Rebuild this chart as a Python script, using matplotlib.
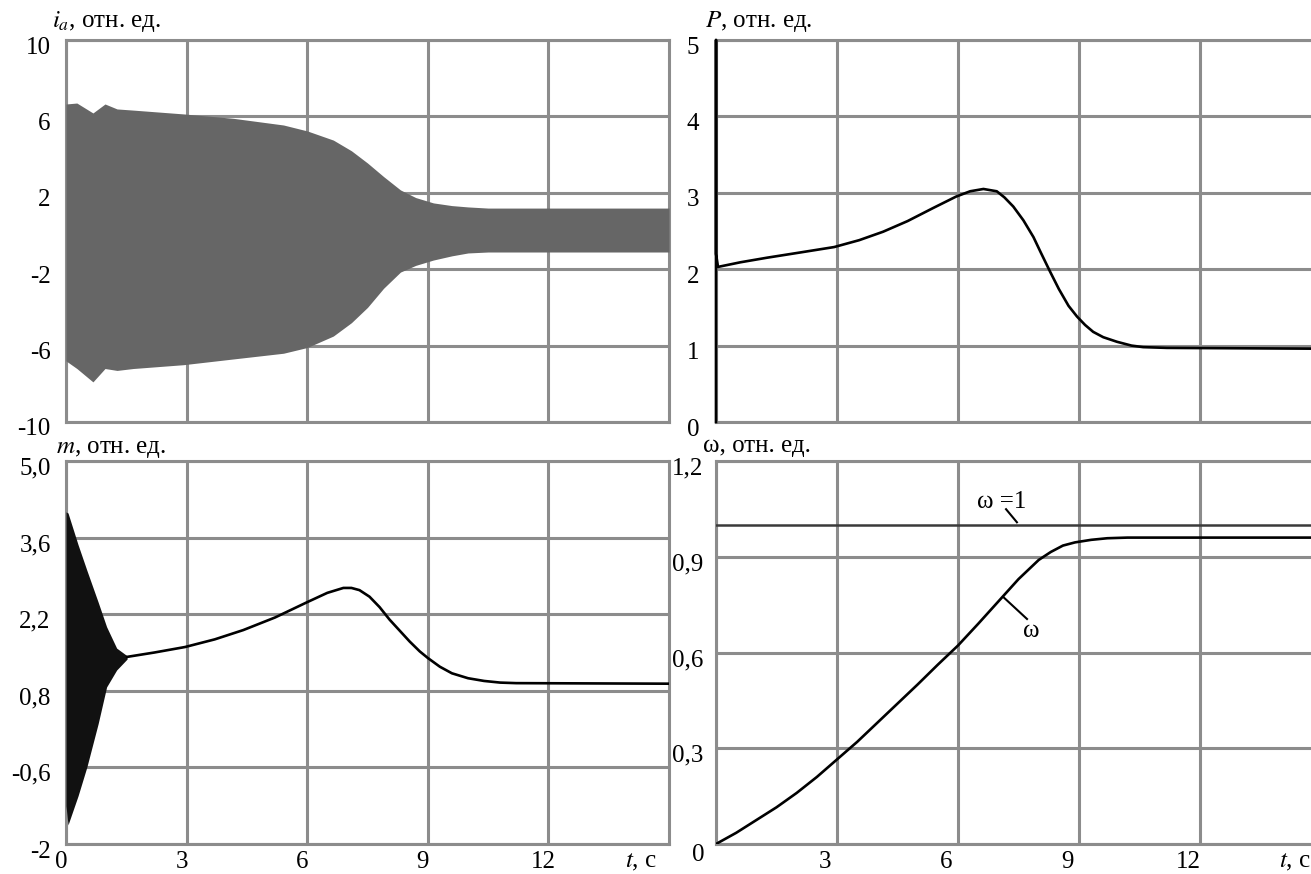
import numpy as np
import matplotlib
matplotlib.use("Agg")
import matplotlib.pyplot as plt
from matplotlib.transforms import ScaledTranslation

plt.rcParams["font.family"] = ["Liberation Serif", "DejaVu Serif"]
plt.rcParams["mathtext.fontset"] = "stix"
plt.rcParams["axes.unicode_minus"] = False

# ---------------- Data ----------------
# i_a: envelope of the fast oscillating phase current
IA_T  = [0, 0.27, 0.67, 0.97, 1.27, 1.67, 2.92, 4.16, 5.41, 6.0, 6.65, 7.1, 7.5, 7.9,
         8.32, 8.7, 9.14, 9.6, 10.0, 10.5, 15]
IA_HI = [6.65, 6.7, 6.18, 6.65, 6.39, 6.33, 6.13, 5.9, 5.55, 5.24, 4.76, 4.2, 3.56, 2.85,
         2.15, 1.75, 1.47, 1.33, 1.26, 1.2, 1.2]
IA_LO = [-6.8, -7.2, -7.9, -7.2, -7.3, -7.2, -7.0, -6.7, -6.4, -6.1, -5.5, -4.8, -4.0, -3.0,
         -2.15, -1.8, -1.52, -1.3, -1.15, -1.1, -1.1]

# P: active power
P_T = [0, 0, 0, 0.05, 0.6, 1.26, 2.1, 2.93, 3.55, 4.14, 4.75, 5.38, 5.95, 6.3, 6.63, 6.96,
       7.15, 7.37, 7.62, 7.87, 8.05, 8.28, 8.5, 8.74, 8.95, 9.15, 9.35, 9.6, 9.94, 10.3,
       10.59, 11.18, 14.75]
P_V = [0, 5, 2.2, 2.03, 2.09, 2.15, 2.22, 2.29, 2.38, 2.49, 2.63, 2.80, 2.95, 3.02, 3.05, 3.02,
       2.94, 2.82, 2.64, 2.42, 2.22, 1.97, 1.74, 1.52, 1.38, 1.27, 1.18, 1.11, 1.05, 1.0,
       0.98, 0.97, 0.96]

# m: torque, oscillating envelope at start, then smooth curve
M_ENV_T  = [0, 0.05, 0.3, 0.52, 0.8, 1.01, 1.26, 1.52]
M_ENV_HI = [4.07, 4.05, 3.47, 3.0, 2.42, 1.97, 1.58, 1.44]
M_ENV_LO = [-1.3, -1.65, -1.12, -0.59, 0.2, 0.87, 1.18, 1.38]
M_T = [1.52, 2.2, 2.96, 3.7, 4.41, 5.2, 6.0, 6.5, 6.9, 7.1, 7.3, 7.55, 7.8, 8.05, 8.3,
       8.55, 8.8, 9.0, 9.3, 9.6, 10.0, 10.4, 10.8, 11.2, 15]
M_V = [1.42, 1.5, 1.60, 1.74, 1.91, 2.14, 2.42, 2.59, 2.68, 2.68, 2.64, 2.52, 2.33, 2.1, 1.9,
       1.7, 1.52, 1.40, 1.24, 1.12, 1.03, 0.98, 0.95, 0.94, 0.93]

# omega: speed
W_T = [0, 0.5, 1.0, 1.5, 2.0, 2.5, 3.0, 3.5, 4.0, 4.5, 5.0, 5.5, 6.0, 6.5, 7.0, 7.5, 8.0,
       8.3, 8.6, 8.9, 9.3, 9.7, 10.2, 14.75]
W_V = [0, 0.035, 0.075, 0.115, 0.16, 0.21, 0.265, 0.32, 0.38, 0.44, 0.50, 0.562, 0.622, 0.69,
       0.76, 0.83, 0.89, 0.915, 0.935, 0.945, 0.953, 0.958, 0.96, 0.96]
OMEGA_REF = 1.0

X_TICKS = [0, 3, 6, 9, 12]
X_LABELS_L = ["0", "3", "6", "9", "12"]
X_LABELS_R = ["", "3", "6", "9", "12"]

IA_TICKS = [-10, -6, -2, 2, 6, 10]
IA_LABELS = ["-10", "-6", "-2", "2", "6", "10"]
P_TICKS = [0, 1, 2, 3, 4, 5]
P_LABELS = ["0", "1", "2", "3", "4", "5"]
M_TICKS = [-2, -0.6, 0.8, 2.2, 3.6, 5.0]
M_LABELS = ["-2", "-0,6", "0,8", "2,2", "3,6", "5,0"]
W_TICKS = [0, 0.3, 0.6, 0.9, 1.2]
W_LABELS = ["", "0,3", "0,6", "0,9", "1,2"]

# ---------------- Style ----------------
W, H = 1311, 874
GRID = "#8c8c8c"
FS = 18

fig = plt.figure(figsize=(W / 100, H / 100), dpi=100)
fig.patch.set_facecolor("white")


def add_axes(x0, x1, y0, y1):
    return fig.add_axes([x0 / W, 1 - y1 / H, (x1 - x0) / W, (y1 - y0) / H])


def shift(labels, dx_px, dy_px):
    for lbl in labels:
        lbl.set_transform(lbl.get_transform() +
                          ScaledTranslation(dx_px / 100, dy_px / 100, fig.dpi_scale_trans))


def style(ax, xmax, yticks, ylabels, ypad, xlabels, xshift, right_spine=True):
    ax.set_xlim(0, xmax)
    ax.set_ylim(yticks[0], yticks[-1])
    ax.set_xticks(X_TICKS)
    ax.set_yticks(yticks)
    ax.set_yticklabels(ylabels)
    show_x = xlabels is not None
    if show_x:
        ax.set_xticklabels(xlabels)
    ax.tick_params(length=0, labelsize=FS, labelbottom=show_x, pad=ypad)
    ax.tick_params(axis="x", pad=5)
    ax.grid(True, color=GRID, lw=2.2)
    ax.set_axisbelow(True)
    for name, sp in ax.spines.items():
        sp.set_color(GRID)
        sp.set_linewidth(2.2)
    ax.spines["right"].set_visible(right_spine)
    shift(ax.get_yticklabels(), 0, -5)
    if show_x:
        shift(ax.get_xticklabels(), xshift, 0)


ax1 = add_axes(66, 669, 40, 422)
ax2 = add_axes(716, 1311, 40, 422)
ax3 = add_axes(66, 669, 461, 844)
ax4 = add_axes(716, 1311, 461, 844)

# i_a
ax1.fill_between(IA_T, IA_LO, IA_HI, color="#666666", lw=0, zorder=3)
style(ax1, 15, IA_TICKS, IA_LABELS, 11, None, 0)

# P
ax2.plot(P_T, P_V, color="black", lw=1.9, clip_on=False, zorder=3)
style(ax2, 14.75, P_TICKS, P_LABELS, 12, None, 0, right_spine=False)

# m
ax3.fill_between(M_ENV_T, M_ENV_LO, M_ENV_HI, color="#111111", lw=0, zorder=3)
ax3.plot(M_T, M_V, color="black", lw=1.9, zorder=3)
style(ax3, 15, M_TICKS, M_LABELS, 11, X_LABELS_L, -5)

# omega
ax4.axhline(OMEGA_REF, color="#3a3a3a", lw=1.8, zorder=3)
ax4.plot(W_T, W_V, color="black", lw=1.9, zorder=3)
style(ax4, 14.75, W_TICKS, W_LABELS, 9, X_LABELS_R, -12, right_spine=False)
ax4.text(7.09, 1.071, "ω =1", fontsize=FS, ha="center", va="center")
ax4.plot([7.19, 7.46], [1.049, 1.008], color="black", lw=1.5)
ax4.text(7.81, 0.667, "ω", fontsize=FS, ha="center", va="center")
ax4.plot([7.12, 7.71], [0.774, 0.705], color="black", lw=1.5)
ax4.annotate("0", xy=(0, 0), xycoords="axes fraction", xytext=(-13, -8),
             textcoords="offset points", fontsize=FS, ha="center", va="center")

# time axis titles
ax3.annotate("$t$, с", xy=(0.98, 0), xycoords="axes fraction", xytext=(0, -5),
             textcoords="offset points", fontsize=FS, ha="right", va="top")
ax4.annotate("$t$, с", xy=(0.999, 0), xycoords="axes fraction", xytext=(0, -5),
             textcoords="offset points", fontsize=FS, ha="right", va="top")

# value axis titles
fig.text(52 / W, 1 - 27 / H, "$i_a$, отн. ед.", fontsize=FS, va="baseline")
fig.text(705 / W, 1 - 27 / H, "$P$, отн. ед.", fontsize=FS, va="baseline")
fig.text(56 / W, 1 - 453 / H, "$m$, отн. ед.", fontsize=FS, va="baseline")
fig.text(703 / W, 1 - 452 / H, "ω, отн. ед.", fontsize=FS, va="baseline")

fig.savefig("out.png", dpi=100)
